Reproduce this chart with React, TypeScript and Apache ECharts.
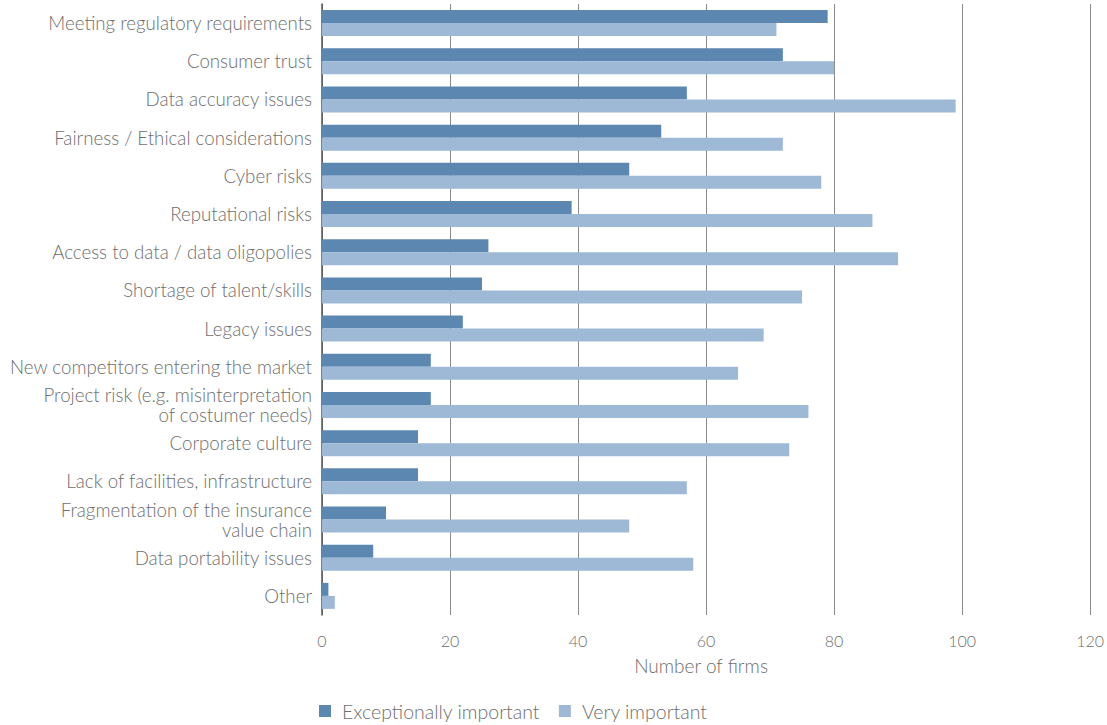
import React, { useEffect, useRef } from "react";
import * as echarts from "echarts";

const categories = [
  "Meeting regulatory requirements",
  "Consumer trust",
  "Data accuracy issues",
  "Fairness / Ethical considerations",
  "Cyber risks",
  "Reputational risks",
  "Access to data / data oligopolies",
  "Shortage of talent/skills",
  "Legacy issues",
  "New competitors entering the market",
  "Project risk (e.g. misinterpretation\nof costumer needs)",
  "Corporate culture",
  "Lack of facilities, infrastructure",
  "Fragmentation of the insurance\nvalue chain",
  "Data portability issues",
  "Other",
];

const exceptionallyImportant = [79, 72, 57, 53, 48, 39, 26, 25, 22, 17, 17, 15, 15, 10, 8, 1];
const veryImportant = [71, 80, 99, 72, 78, 86, 90, 75, 69, 65, 76, 73, 57, 48, 58, 2];

const seriesNames = ["Exceptionally important", "Very important"];
const xTicks = { min: 0, max: 120, interval: 20 };

export default function App() {
  const ref = useRef<HTMLDivElement>(null);
  useEffect(() => {
    if (!ref.current) return;
    const chart = echarts.init(ref.current, null, { renderer: "svg" });
    const font = "Lato";
    const textColor = "#6e6e6e";
    chart.setOption({
      animation: false,
      backgroundColor: "#ffffff",
      textStyle: { fontFamily: font },
      grid: { left: 322, right: 15, top: 4, bottom: 110, containLabel: false },
      legend: {
        data: seriesNames,
        left: 314,
        top: 696,
        itemWidth: 12,
        itemHeight: 12,
        itemGap: 19,
        icon: "rect",
        textStyle: {
          fontSize: 19.5,
          color: textColor,
          fontFamily: font,
          fontWeight: 300,
          padding: [0, 0, 0, 6],
        },
      },
      xAxis: {
        type: "value",
        min: xTicks.min,
        max: xTicks.max,
        interval: xTicks.interval,
        name: "Number of firms",
        nameLocation: "middle",
        nameGap: 41,
        nameTextStyle: { fontSize: 19, color: textColor, fontFamily: font, fontWeight: 300, padding: [0, 10, 0, 0] },
        axisLine: { show: false },
        axisTick: { show: false },
        axisLabel: { fontSize: 16, color: textColor, margin: 17, fontFamily: font, fontWeight: 300 },
        splitLine: { show: true, lineStyle: { color: "#8a8a8a", width: 1 } },
      },
      yAxis: {
        type: "category",
        data: categories,
        inverse: true,
        axisLine: { show: true, lineStyle: { color: "#555555", width: 1.5 } },
        axisTick: { show: false },
        axisLabel: {
          fontSize: 18.7,
          color: textColor,
          margin: 10,
          lineHeight: 20,
          fontFamily: font,
          fontWeight: 300,
        },
      },
      series: [
        {
          name: seriesNames[0],
          type: "bar",
          data: exceptionallyImportant,
          itemStyle: { color: "#5b87b1" },
          barWidth: 13,
          barGap: "0%",
        },
        {
          name: seriesNames[1],
          type: "bar",
          data: veryImportant,
          itemStyle: { color: "#9eb9d5" },
          barWidth: 13,
          barGap: "0%",
        },
      ],
    });
    return () => chart.dispose();
  }, []);
  return (
    <div
      ref={ref}
      style={{ position: "fixed", left: 0, top: 0, width: 1107, height: 725 }}
    />
  );
}
